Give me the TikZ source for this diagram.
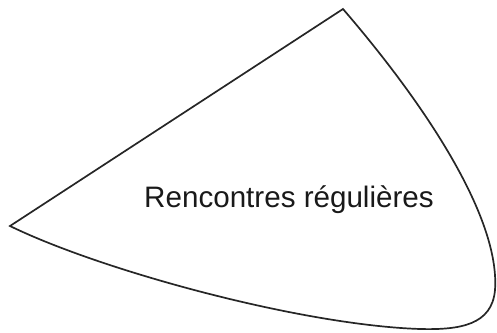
\documentclass[tikz,border=0pt]{standalone}
\usepackage{fontspec}
\setmainfont{Liberation Sans}
\begin{document}
\begin{tikzpicture}[x=1pt,y=-1pt,
  shapeline/.style={draw=black!85, line width=1.7pt, line join=miter},
  label/.style={font=\fontsize{29.6}{34}\selectfont, text=black!90, inner sep=0pt, anchor=base}]
\useasboundingbox (0,0) rectangle (497,332);
\coordinate (L) at (10,226);
\coordinate (T) at (343,9);
\coordinate (R) at (495,290);
\coordinate (B) at (420,329);
\path[shapeline] (L) -- (T) .. controls (430,110) and (500,220) .. (R)
  .. controls (492,325) and (460,330) .. (B)
  .. controls (300,325) and (100,270) .. (L) -- cycle;
\node[label] (txt) at (289,207) {Rencontres régulières};
\end{tikzpicture}
\end{document}
